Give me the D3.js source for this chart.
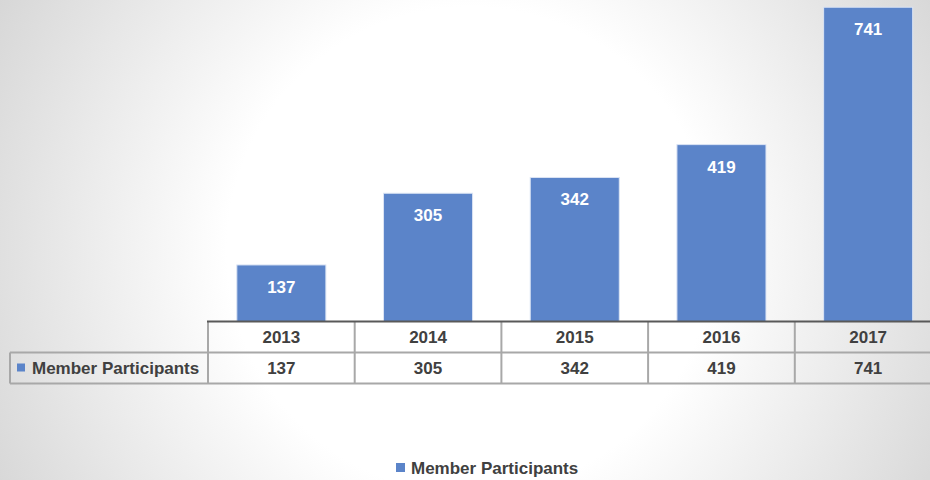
<!DOCTYPE html>
<meta charset="utf-8">
<style>
  body { margin: 0; }
  svg text { font-family: 'Liberation Sans', Arial, sans-serif; }
</style>
<svg width="930" height="480"></svg>
<script src="https://d3js.org/d3.v7.min.js"></script>
<script>
var years = ["2013", "2014", "2015", "2016", "2017"];
var participants = [137, 305, 342, 419, 741];
var seriesName = "Member Participants";

var barColor = "#5b84c9",
    textColor = "#404040",
    gridColor = "#a8a8a8";

var svg = d3.select("svg");

// radial background, white in the middle
var grad = svg.append("defs").append("radialGradient")
    .attr("id", "bg")
    .attr("gradientUnits", "userSpaceOnUse")
    .attr("cx", 470).attr("cy", 250).attr("r", 540);
grad.append("stop").attr("offset", "0.45").attr("stop-color", "#ffffff");
grad.append("stop").attr("offset", "1").attr("stop-color", "#d6d6d6");

svg.append("rect")
    .attr("width", 930).attr("height", 480)
    .attr("fill", "url(#bg)");

var axisY = 321.5,
    rowH = 31,
    tableLeft = 208,
    keyLeft = 10;

// table columns and bars share the same category slots
var cols = d3.scaleBand()
    .domain(years)
    .range([tableLeft, tableLeft + 5 * 146.7]);

var x = d3.scaleBand()
    .domain(years)
    .range(cols.range())
    .paddingInner(0.393)
    .paddingOuter(0.1965);

var y = d3.scaleLinear()
    .domain([0, 800])
    .range([323.4, 323.4 - 800 * 0.4267]);

var data = years.map(function(d, i) { return {year: d, value: participants[i]}; });

// bars
svg.append("g").selectAll("rect")
    .data(data)
  .enter().append("rect")
    .attr("x", function(d) { return x(d.year); })
    .attr("y", function(d) { return y(d.value); })
    .attr("width", x.bandwidth())
    .attr("height", function(d) { return axisY - y(d.value); })
    .attr("fill", barColor)
    .attr("stroke", "#dbe4f4")
    .attr("stroke-width", 1);

// labels inside bar tops
svg.append("g").selectAll("text")
    .data(data)
  .enter().append("text")
    .attr("x", function(d) { return x(d.year) + x.bandwidth() / 2; })
    .attr("y", function(d) { return y(d.value) + 28; })
    .attr("text-anchor", "middle")
    .attr("fill", "#fff")
    .style("font-size", "17px")
    .style("font-weight", "bold")
    .text(function(d) { return d.value; });

// data table
var table = svg.append("g")
    .attr("stroke", gridColor)
    .attr("stroke-width", 2)
    .attr("fill", "none");

var right = cols.range()[1];

// horizontal lines
table.append("line")
    .attr("x1", keyLeft).attr("x2", right)
    .attr("y1", axisY + rowH).attr("y2", axisY + rowH);
table.append("line")
    .attr("x1", keyLeft).attr("x2", right)
    .attr("y1", axisY + 2 * rowH).attr("y2", axisY + 2 * rowH);

// vertical lines
table.append("line")
    .attr("x1", keyLeft).attr("x2", keyLeft)
    .attr("y1", axisY + rowH).attr("y2", axisY + 2 * rowH);
table.selectAll(".col")
    .data(years)
  .enter().append("line")
    .attr("x1", function(d) { return cols(d); })
    .attr("x2", function(d) { return cols(d); })
    .attr("y1", axisY).attr("y2", axisY + 2 * rowH);

// category axis line on top of the table
svg.append("line")
    .attr("x1", tableLeft - 1).attr("x2", right)
    .attr("y1", axisY).attr("y2", axisY)
    .attr("stroke", "#595959")
    .attr("stroke-width", 2);

var cells = svg.append("g")
    .attr("text-anchor", "middle")
    .attr("fill", textColor)
    .style("font-size", "17px")
    .style("font-weight", "bold");

cells.selectAll(".yr")
    .data(years)
  .enter().append("text")
    .attr("x", function(d) { return cols(d) + cols.bandwidth() / 2; })
    .attr("y", axisY + rowH / 2)
    .attr("dy", "0.35em")
    .text(function(d) { return d; });

cells.selectAll(".val")
    .data(data)
  .enter().append("text")
    .attr("x", function(d) { return cols(d.year) + cols.bandwidth() / 2; })
    .attr("y", axisY + rowH * 1.5)
    .attr("dy", "0.35em")
    .text(function(d) { return d.value; });

// legend key inside the table
svg.append("rect")
    .attr("x", 17).attr("y", axisY + rowH * 1.5 - 4.5)
    .attr("width", 8).attr("height", 8)
    .attr("fill", barColor);
svg.append("text")
    .attr("x", 32).attr("y", axisY + rowH * 1.5)
    .attr("dy", "0.35em")
    .attr("fill", textColor)
    .style("font-size", "17px")
    .style("font-weight", "bold")
    .text(seriesName);

// legend at the bottom
var legend = svg.append("g").attr("transform", "translate(396,468)");
legend.append("rect")
    .attr("x", 0).attr("y", -5)
    .attr("width", 9).attr("height", 9)
    .attr("fill", barColor);
legend.append("text")
    .attr("x", 15)
    .attr("dy", "0.35em")
    .attr("fill", textColor)
    .style("font-size", "17px")
    .style("font-weight", "bold")
    .text(seriesName);
</script>
